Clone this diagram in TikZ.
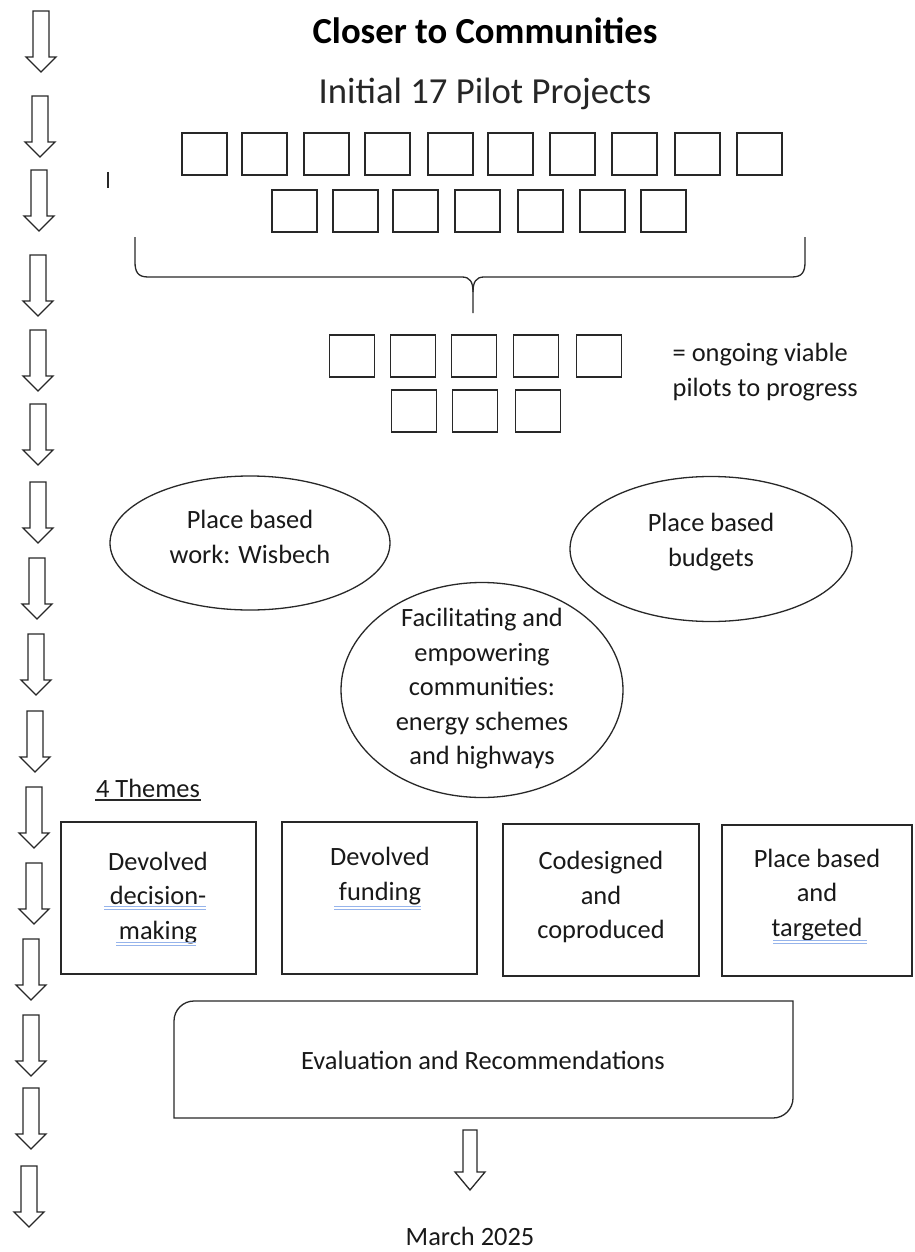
\documentclass[tikz,border=0pt]{standalone}
\usepackage{fontspec}
\setmainfont{Carlito}
\usetikzlibrary{shapes.geometric}
\definecolor{lc}{RGB}{40,40,40}
\definecolor{squig}{RGB}{150,180,235}
\newcommand\diagbody{\fontsize{26.4}{34.5}\selectfont}
\newcommand\diagtitle{\fontsize{36.7}{42}\selectfont}
\tikzset{
  sq/.style={draw=lc, minimum width=45pt, minimum height=42pt, inner sep=0pt},
  bubble/.style={draw=lc, ellipse, inner sep=0pt},
  theme/.style={draw=lc, inner sep=0pt},
  txt/.style={align=center, inner sep=0pt, font=\diagbody, text=black!90},
  squigline/.style={draw=squig, line width=0.9pt},
  darrow/.pic={\draw[draw=lc, line width=1.3pt, line join=miter]
     (-8,0) -- (-8,46) -- (-15,46) -- (0,61) -- (15,46) -- (8,46) -- (8,0) -- cycle;}
}
\begin{document}
\begin{tikzpicture}[x=1pt,y=-1pt, line width=1.3pt]
\useasboundingbox[fill=white] (0,0) rectangle (914,1252);

% left column of arrows
\foreach \ax/\ay in {41/11, 40/96, 39/170, 38/255, 38/330, 38/404, 38/482, 37/558,
                     36/634, 35/711, 34/787, 34/863, 31/939, 31/1015, 31/1088, 29/1166}
  \pic at (\ax,\ay) {darrow};

% titles
\node[font=\diagtitle\bfseries, inner sep=0pt, anchor=base] (title) at (485,44) {Closer to Communities};
\node[font=\diagtitle, inner sep=0pt, anchor=base, text=black!85] (sub) at (485,104) {Initial 17 Pilot Projects};

% tick
\draw[lc, line width=1.4pt] (108,172) -- (108,188);

% 17 pilot squares
\foreach \cx [count=\i] in {204.5,264.5,326.5,387.5,450.5,510.5,572.5,634.5,697.5,759.5}
  \node[sq] (p\i) at (\cx,154) {};
\foreach \cx [count=\i from 11] in {294.5,355.5,415.5,477.5,540.5,602.5,663.5}
  \node[sq] (p\i) at (\cx,211) {};

% brace
\draw[lc, line width=1.3pt] (135,237) -- (135,262) .. controls (135,272) and (138,277) .. (148,277)
   -- (462,277) .. controls (470,277) and (473,282) .. (473,292) -- (473,313);
\draw[lc, line width=1.3pt] (473,292) .. controls (473,282) and (476,277) .. (484,277)
   -- (792,277) .. controls (802,277) and (805,272) .. (805,262) -- (805,237);

% 8 ongoing squares
\foreach \cx [count=\i] in {352,413,474,536,599}
  \node[sq] (q\i) at (\cx,356) {};
\foreach \cx [count=\i from 6] in {414,475,538}
  \node[sq] (q\i) at (\cx,411) {};
\node[txt, align=left, anchor=west] (ongo) at (672,372) {= ongoing viable\\pilots to progress};

% ellipses
\node[bubble, minimum width=280pt, minimum height=134pt] (e1) at (250,543) {};
\node[txt] (e1t) at (250,537) {Place based\\work: Wisbech};
\node[bubble, minimum width=282pt, minimum height=145pt] (e2) at (711,549) {};
\node[txt] (e2t) at (711,542) {Place based\\budgets};
\node[bubble, minimum width=282pt, minimum height=215pt] (e3) at (482,690) {};
\node[txt] (e3t) at (482,689) {Facilitating and\\empowering\\communities:\\energy schemes\\and highways};

% 4 themes
\node[txt, anchor=base] (themes) at (148,797) {4 Themes};
\draw[lc, line width=1.2pt] ([yshift=-3pt]themes.base west) -- ([yshift=-3pt]themes.base east);

\node[theme, minimum width=195pt, minimum height=152pt] (th1) at (158.5,898) {};
\node[theme, minimum width=195pt, minimum height=152pt] (th2) at (379.5,898) {};
\node[theme, minimum width=196pt, minimum height=152pt] (th3) at (601,900) {};
\node[theme, minimum width=190pt, minimum height=151pt] (th4) at (817,900.5) {};

\node[txt] (th1t) at (158,898) {Devolved\\decision-\\making};
\node[txt] (th2t) at (380,876) {Devolved\\funding};
\node[txt] (th3t) at (601,897) {Codesigned\\and\\coproduced};
\node[txt] (th4t) at (817,895) {Place based\\and\\targeted};

% blue grammar underlines
\draw[squigline] (104,906) -- (206,906) (104,909) -- (206,909);
\draw[squigline] (116,942) -- (196,942) (116,945) -- (196,945);
\draw[squigline] (334,906) -- (421,906) (334,909) -- (421,909);
\draw[squigline] (773,940) -- (867,940) (773,943) -- (867,943);

% evaluation box
\draw[lc, line width=1.3pt] (174,1118) -- (174,1021) .. controls (174,1010) and (183,1001) .. (194,1001)
   -- (793,1001) -- (793,1098) .. controls (793,1109) and (784,1118) .. (773,1118) -- cycle;
\node[txt] (eval) at (483,1060) {Evaluation and Recommendations};

% arrow to March 2025
\draw[lc, line width=1.3pt, line join=miter] (463,1130) -- (463,1172) -- (455,1172) -- (470,1190)
   -- (485,1172) -- (477,1172) -- (477,1130) -- cycle;
\node[txt] (march) at (470,1236) {March 2025};
\end{tikzpicture}
\end{document}
